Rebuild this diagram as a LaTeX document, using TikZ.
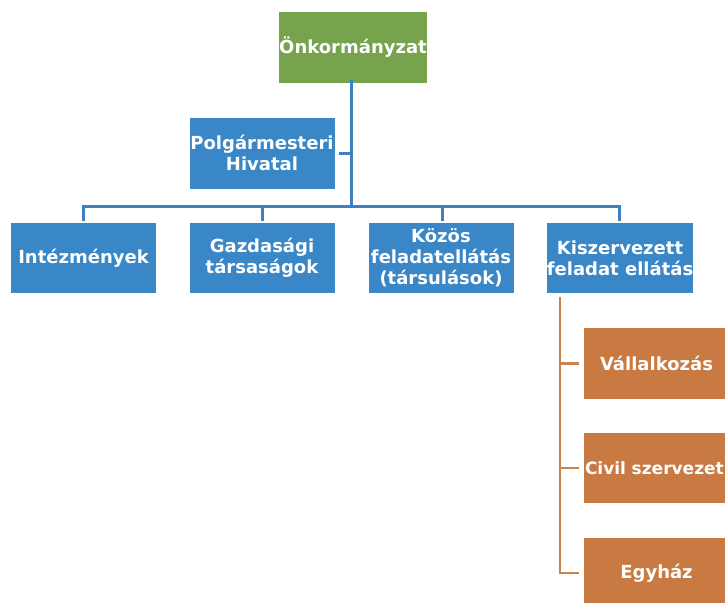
\documentclass[tikz,border=0pt]{standalone}
\usepackage{fontspec}
\setmainfont{DejaVu Sans}
\definecolor{greenbox}{HTML}{76A34B}
\definecolor{bluebox}{HTML}{3A87C7}
\definecolor{orangebox}{HTML}{C97A42}
\definecolor{blueline}{HTML}{3E80C2}
\definecolor{orangeline}{HTML}{C8834F}
\tikzset{
  box/.style={rectangle, inner sep=0pt, text=white, align=center,
    font=\fontsize{18}{21}\selectfont\bfseries,
    minimum width=145pt, minimum height=71pt},
  gbox/.style={box, fill=greenbox},
  bbox/.style={box, fill=bluebox},
  obox/.style={box, fill=orangebox},
  bline/.style={draw=blueline, line width=3pt},
  oline/.style={draw=orangeline, line width=2.2pt},
}
\begin{document}
\begin{tikzpicture}[x=1pt,y=-1pt]
\useasboundingbox (0,0) rectangle (725,602);
\clip (0,0) rectangle (725,602);
\fill[white] (0,0) rectangle (725,602);
\node[gbox] (onk) at (353,47.5) {Önkormányzat};
\node[bbox] (polg) at (262,153) {Polgármesteri\\Hivatal};
\node[bbox, minimum height=70pt] (inte) at (83.5,258) {Intézmények};
\node[bbox, minimum height=70pt] (gazd) at (262,258) {Gazdasági\\társaságok};
\node[bbox, minimum height=70pt] (kozos) at (441,258) {Közös\\feladatellátás\\(társulások)};
\node[bbox, minimum height=70pt] (kisz) at (620,258) {Kiszervezett\\feladat ellátás};
\node[obox] (vall) at (656.5,363.5) {Vállalkozás};
\node[obox, minimum height=70pt, text width=145pt, align=left,
      font=\fontsize{17}{20}\selectfont\bfseries] (civil) at (656.5,468) {\hspace{1pt}Civil szervezet};
\node[obox, minimum height=70pt] (egyh) at (656.5,573) {Egyház};
% blue tree
\coordinate (bus) at (351,206);
\draw[bline] ([yshift=3pt]onk.south -| bus) -- (bus);
\draw[bline, shorten <=4pt] (polg.east) -- (polg.east -| bus);
\draw[bline, shorten >=2pt] (bus) -| (inte.north);
\draw[bline, shorten >=2pt] (bus) -| (gazd.north);
\draw[bline, shorten >=2pt] (bus) -| ([xshift=1pt]kozos.north);
\draw[bline, shorten >=2pt] (bus) -| ([xshift=-1pt]kisz.north);
% orange tree
\coordinate (ot) at (560,297);
\draw[oline] (ot) |- ([xshift=-5pt]egyh.west);
\draw[oline, shorten >=5pt] (ot |- vall.west) -- (vall.west);
\draw[oline, shorten >=5pt] (ot |- civil.west) -- (civil.west);
\end{tikzpicture}
\end{document}
